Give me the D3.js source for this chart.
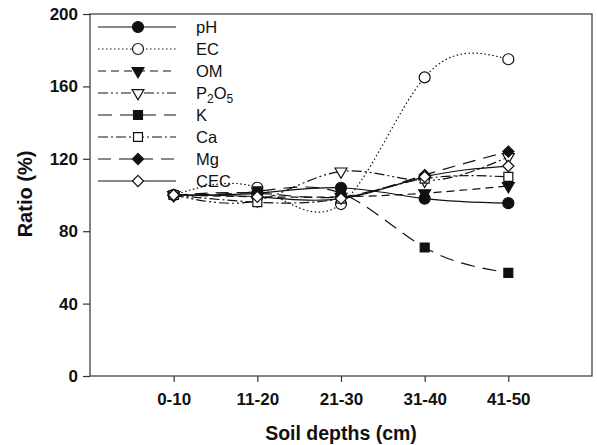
<!DOCTYPE html>
<html>
<head>
<meta charset="utf-8">
<script src="https://cdn.jsdelivr.net/npm/d3@7"></script>
<style>
  body { margin: 0; background: #fff; }
  svg text { font-family: "Liberation Sans", Arial, sans-serif; fill: #111; }
</style>
</head>
<body>
<svg id="chart" width="597" height="445"></svg>
<script>
// depths and ratio values (%)
var depths = ["0-10", "11-20", "21-30", "31-40", "41-50"];
var yTicks = [0, 40, 80, 120, 160, 200];

var pH   = [100, 101, 104, 98, 95.5];
var EC   = [100, 104, 95, 165, 175];
var OM   = [100, 99, 99, 101, 105];
var P2O5 = [100, 97, 113, 108, 121];
var K    = [100, 102, 101, 71, 57];
var Ca   = [100, 96, 98, 109, 110];
var Mg   = [100, 101, 99, 111, 124];
var CEC  = [100, 99, 98, 110, 116];

// symbols: downward triangle and square-ish diamond
var triDown = {
    draw: function(ctx, size) {
        var s = Math.sqrt(size * 4 / Math.sqrt(3));
        var h = s * Math.sqrt(3) / 2;
        ctx.moveTo(-s / 2, -h / 3);
        ctx.lineTo(s / 2, -h / 3);
        ctx.lineTo(0, 2 * h / 3);
        ctx.closePath();
    }
};
var diamond = {
    draw: function(ctx, size) {
        var r = Math.sqrt(size / 2);
        ctx.moveTo(0, -r);
        ctx.lineTo(r, 0);
        ctx.lineTo(0, r);
        ctx.lineTo(-r, 0);
        ctx.closePath();
    }
};

var series = [
    {name: "pH",   values: pH,   dash: null,           symbol: d3.symbolCircle, filled: true,  size: 95},
    {name: "EC",   values: EC,   dash: "1.5,2.5",      symbol: d3.symbolCircle, filled: false, size: 95},
    {name: "OM",   values: OM,   dash: "8,5",          symbol: triDown,         filled: true,  size: 62},
    {name: "P2O5", values: P2O5, dash: "10,3,2,3,2,3", symbol: triDown,         filled: false, size: 62},
    {name: "K",    values: K,    dash: "14,8",         symbol: d3.symbolSquare, filled: true,  size: 80},
    {name: "Ca",   values: Ca,   dash: "10,3,2,3",     symbol: d3.symbolSquare, filled: false, size: 80},
    {name: "Mg",   values: Mg,   dash: "13,8",         symbol: diamond,         filled: true,  size: 62},
    {name: "CEC",  values: CEC,  dash: null,           symbol: diamond,         filled: false, size: 62}
];

var svg = d3.select("#chart");
var plotLeft = 90, plotRight = 592, plotTop = 14, plotBottom = 376;

var x = d3.scaleLinear().domain([-1, 5]).range([plotLeft, plotRight]);
var y = d3.scaleLinear().domain([0, 200]).range([plotBottom, plotTop]);

function symPath(s) {
    return d3.symbol().type(s.symbol).size(s.size)();
}

// frame
svg.append("rect")
    .attr("x", plotLeft).attr("y", plotTop)
    .attr("width", plotRight - plotLeft).attr("height", plotBottom - plotTop)
    .attr("fill", "none").attr("stroke", "#333").attr("stroke-width", 1.2);

// axes
var yAxis = svg.append("g")
    .attr("transform", "translate(" + plotLeft + ",0)")
    .call(d3.axisLeft(y).tickValues(yTicks).tickSize(7).tickPadding(5));
var xAxis = svg.append("g")
    .attr("transform", "translate(0," + plotBottom + ")")
    .call(d3.axisBottom(x).tickValues(d3.range(depths.length))
        .tickFormat(function(i) { return depths[i]; })
        .tickSize(6).tickPadding(11));
[yAxis, xAxis].forEach(function(a) {
    a.select(".domain").remove();
    a.selectAll("line").attr("stroke", "#333").attr("stroke-width", 1.2);
    a.selectAll("text").style("font-size", "17px").style("font-weight", "bold")
        .style("font-family", "'Liberation Sans', Arial, sans-serif").attr("fill", "#111");
});

// axis titles
svg.append("text")
    .attr("transform", "translate(32,194) rotate(-90)")
    .attr("text-anchor", "middle")
    .style("font-size", "20px").style("font-weight", "bold")
    .text("Ratio (%)");
svg.append("text")
    .attr("x", 341).attr("y", 440)
    .attr("text-anchor", "middle")
    .style("font-size", "19.5px").style("font-weight", "bold")
    .text("Soil depths (cm)");

// lines
var line = d3.line()
    .x(function(d, i) { return x(i); })
    .y(function(d) { return y(d); })
    .curve(d3.curveNatural);

var plot = svg.append("g");
series.forEach(function(s) {
    plot.append("path")
        .attr("d", line(s.values))
        .attr("fill", "none")
        .attr("stroke", "#111")
        .attr("stroke-width", 1.2)
        .attr("stroke-dasharray", s.dash);
});
series.forEach(function(s) {
    plot.selectAll(null).data(s.values).enter().append("path")
        .attr("transform", function(d, i) { return "translate(" + x(i) + "," + y(d) + ")"; })
        .attr("d", symPath(s))
        .attr("fill", s.filled ? "#111" : "#fff")
        .attr("stroke", "#111")
        .attr("stroke-width", 1.2);
});

// legend
var legend = svg.append("g");
series.forEach(function(s, i) {
    var ly = 27 + i * 22;
    legend.append("line")
        .attr("x1", 98).attr("x2", 176).attr("y1", ly).attr("y2", ly)
        .attr("stroke", "#111").attr("stroke-width", 1.2)
        .attr("stroke-dasharray", s.dash);
    legend.append("path")
        .attr("transform", "translate(138," + ly + ")")
        .attr("d", symPath(s))
        .attr("fill", s.filled ? "#111" : "#fff")
        .attr("stroke", "#111").attr("stroke-width", 1.2);
    var t = legend.append("text")
        .attr("x", 196).attr("y", ly + 6)
        .style("font-size", "16.5px");
    if (s.name === "P2O5") {
        t.append("tspan").text("P");
        t.append("tspan").attr("dy", 4).style("font-size", "12px").text("2");
        t.append("tspan").attr("dy", -4).text("O");
        t.append("tspan").attr("dy", 4).style("font-size", "12px").text("5");
    } else {
        t.text(s.name);
    }
});
</script>
</body>
</html>
